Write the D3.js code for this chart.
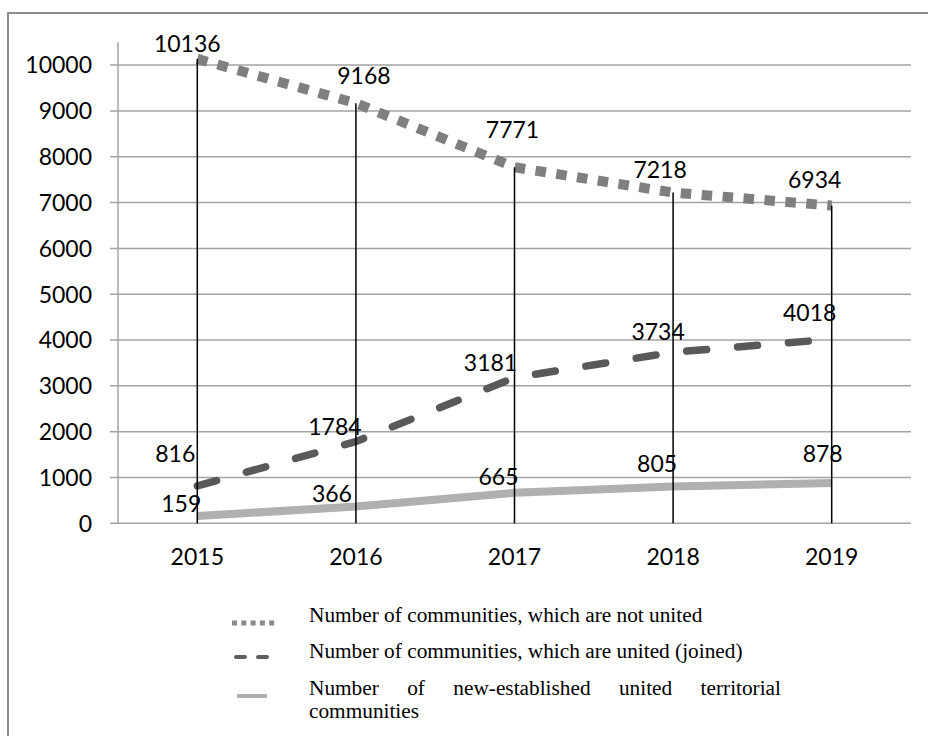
<!DOCTYPE html>
<html>
<head>
<meta charset="utf-8">
<script src="https://cdn.jsdelivr.net/npm/d3@7"></script>
<style>
  html, body { margin: 0; padding: 0; background: #fff; }
  svg { display: block; }
</style>
</head>
<body>
<script>
// ---- data ----
const years = ["2015", "2016", "2017", "2018", "2019"];
const notUnited = [10136, 9168, 7771, 7218, 6934];
const unitedJoined = [816, 1784, 3181, 3734, 4018];
const newEstablished = [159, 366, 665, 805, 878];
const yTicks = [0, 1000, 2000, 3000, 4000, 5000, 6000, 7000, 8000, 9000, 10000];
const seriesNames = [
  "Number of communities, which are not united",
  "Number of communities, which are united (joined)",
  "Number of new-established united territorial communities"
];

// label nudges relative to each point (layout, not data)
const labelNudge = [
  [[-10, -7], [8, -19], [-2, -29], [-13, -15], [-17, -18]],
  [[-22, -24], [-21, -7], [-24, -7], [-15, -12], [-22, -18]],
  [[-16, -4], [-24, -5], [-16, -8], [-16, -14], [-9, -21]]
];

const W = 928, H = 736;
const svg = d3.select("body").append("svg").attr("width", W).attr("height", H);
svg.append("rect").attr("width", W).attr("height", H).attr("fill", "#fff");

// outer frame
svg.append("rect")
  .attr("x", 8).attr("y", 13).attr("width", 960).attr("height", 760)
  .attr("fill", "none").attr("stroke", "#8c8c8c").attr("stroke-width", 2);

const x = d3.scaleBand().domain(years).range([118, 911]).paddingInner(0).paddingOuter(0);
const y = d3.scaleLinear().domain([0, 10500]).range([523.3, 42.2]);
const cx = d => x(d) + x.bandwidth() / 2;

const numFont = "Lato, 'Open Sans', sans-serif";

// gridlines (with tick stubs to the left of the axis)
svg.append("g").selectAll("line").data(yTicks).join("line")
  .attr("x1", 110).attr("x2", 911)
  .attr("y1", d => y(d)).attr("y2", d => y(d))
  .attr("stroke", "#a3a3a3").attr("stroke-width", 1.5);

// y axis line
svg.append("line")
  .attr("x1", 118).attr("x2", 118)
  .attr("y1", y(10500)).attr("y2", y(0))
  .attr("stroke", "#a3a3a3").attr("stroke-width", 1.5);

// y tick labels
svg.append("g").selectAll("text").data(yTicks).join("text")
  .attr("x", 92).attr("y", d => y(d) + 8.3)
  .attr("text-anchor", "end")
  .attr("font-family", numFont).attr("font-size", 23).attr("fill", "#000")
  .text(d => d);

// x labels
svg.append("g").selectAll("text").data(years).join("text")
  .attr("x", d => cx(d)).attr("y", 565)
  .attr("text-anchor", "middle")
  .attr("font-family", numFont).attr("font-size", 23).attr("fill", "#000")
  .text(d => d);

const series = [
  { values: notUnited, color: "#7f7f7f", width: 10, dash: "10.5 10.5", cap: "butt" },
  { values: unitedJoined, color: "#595959", width: 7.5, dash: "20 31", cap: "round" },
  { values: newEstablished, color: "#b0b0b0", width: 8, dash: null, cap: "butt" }
];

const line = d3.line().x(d => cx(d.year)).y(d => y(d.value));

// draw series lines (lightest first)
[2, 1, 0].forEach(i => {
  const s = series[i];
  const pts = years.map((yr, j) => ({ year: yr, value: s.values[j] }));
  const p = svg.append("path")
    .attr("d", line(pts))
    .attr("fill", "none")
    .attr("stroke", s.color)
    .attr("stroke-width", s.width)
    .attr("stroke-linecap", s.cap)
    .attr("stroke-linejoin", "round");
  if (s.dash) p.attr("stroke-dasharray", s.dash);
});

// drop lines (from highest value to the axis)
svg.append("g").selectAll("line").data(years).join("line")
  .attr("x1", d => cx(d)).attr("x2", d => cx(d))
  .attr("y1", (d, j) => y(Math.max(notUnited[j], unitedJoined[j], newEstablished[j])))
  .attr("y2", y(0))
  .attr("stroke", "#000").attr("stroke-width", 1.5);

// data labels
series.forEach((s, i) => {
  svg.append("g").selectAll("text").data(years).join("text")
    .attr("x", (d, j) => cx(d) + labelNudge[i][j][0])
    .attr("y", (d, j) => y(s.values[j]) + labelNudge[i][j][1])
    .attr("text-anchor", "middle")
    .attr("font-family", numFont).attr("font-size", 23).attr("fill", "#000")
    .text((d, j) => s.values[j]);
});

// legend
const legFont = "'Liberation Serif', 'Times New Roman', serif";
const legSize = 21.3;
const lg = svg.append("g");

// icons
lg.append("line").attr("x1", 232).attr("x2", 276).attr("y1", 623).attr("y2", 623)
  .attr("stroke", "#8a8a8a").attr("stroke-width", 5).attr("stroke-dasharray", "5 4.3");
lg.append("line").attr("x1", 236).attr("x2", 267).attr("y1", 657).attr("y2", 657)
  .attr("stroke", "#5e5e5e").attr("stroke-width", 4).attr("stroke-linecap", "round")
  .attr("stroke-dasharray", "9 13");
lg.append("line").attr("x1", 237).attr("x2", 267).attr("y1", 696).attr("y2", 696)
  .attr("stroke", "#b0b0b0").attr("stroke-width", 4);

const legText = (t, xx, yy) => lg.append("text")
  .attr("x", xx).attr("y", yy)
  .attr("font-family", legFont).attr("font-size", legSize).attr("fill", "#000")
  .text(t);

legText(seriesNames[0], 309, 622);
legText(seriesNames[1], 309, 658);

// third entry: justified first line, then wrap
const words3 = seriesNames[2].split(" ");
const firstLine = words3.slice(0, 5);
const rest = words3.slice(5).join(" ");
const left = 309, right = 781;
const nodes = firstLine.map(w => legText(w, 0, 695));
const widths = nodes.map(n => n.node().getComputedTextLength());
const totalW = d3.sum(widths);
const gap = (right - left - totalW) / (firstLine.length - 1);
let cursor = left;
nodes.forEach((n, k) => { n.attr("x", cursor); cursor += widths[k] + gap; });
legText(rest, 309, 718);
</script>
</body>
</html>
